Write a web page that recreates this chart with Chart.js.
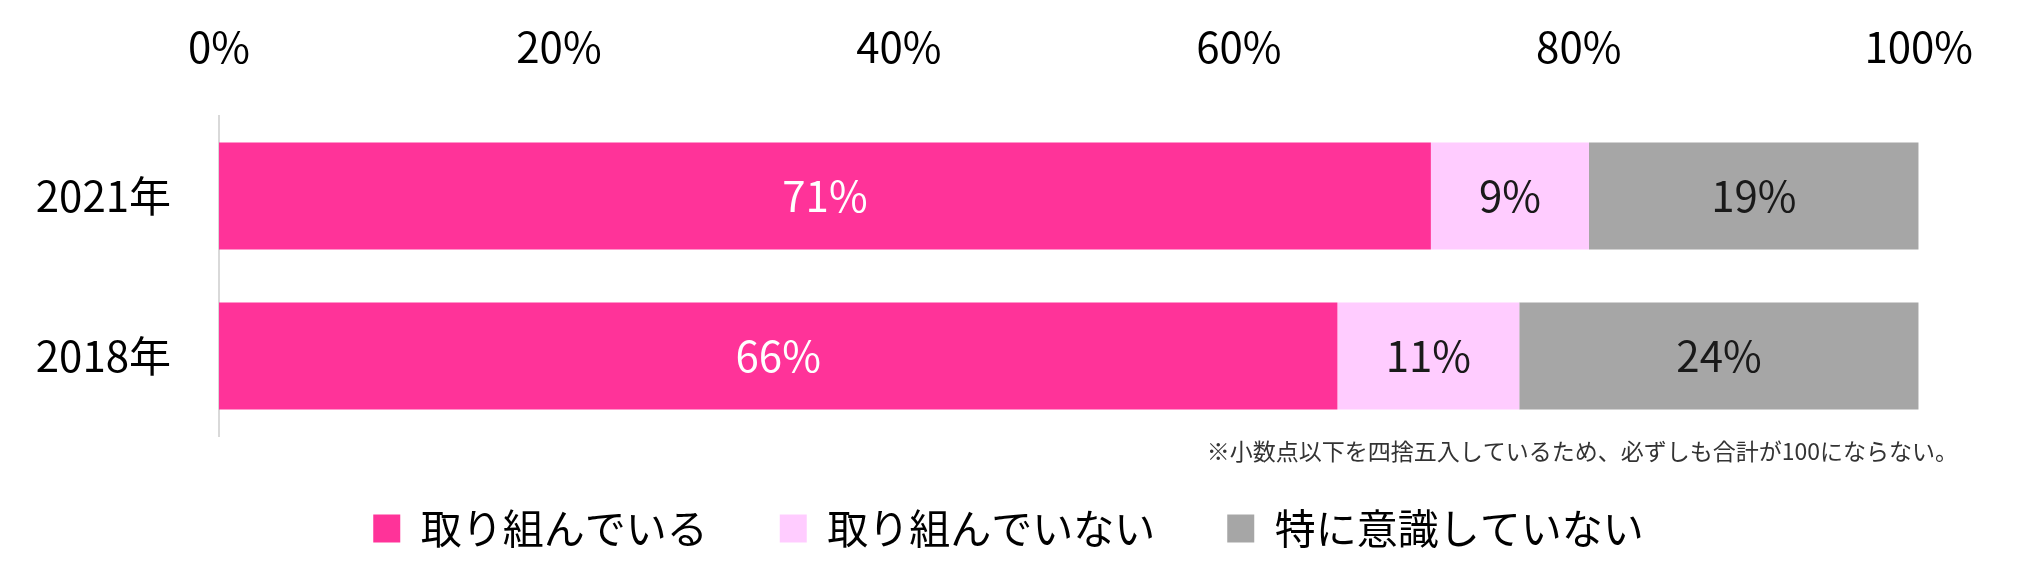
<!DOCTYPE html>
<html lang="ja">
<head>
<meta charset="utf-8">
<script src="https://cdn.jsdelivr.net/npm/chart.js@4.4.3/dist/chart.umd.min.js"></script>
<style>
    html, body { margin: 0; padding: 0; background: #fff; }
    #wrap { width: 2017px; height: 571px; position: relative; }
</style>
</head>
<body>
<div id="wrap"><canvas id="chart"></canvas></div>
<script>
const years = ['2021年', '2018年'];
const seriesNames = ['取り組んでいる', '取り組んでいない', '特に意識していない'];
const doing = [71.3, 65.8];
const notDoing = [9.3, 10.7];
const notAware = [19.4, 23.5];
const xTicks = [0, 20, 40, 60, 80, 100];
const note = '※小数点以下を四捨五入しているため、必ずしも合計が100にならない。';

const colors = ['#FF3399', '#FFCCFF', '#A6A6A6'];
const labelColors = ['#ffffff', '#1a1a1a', '#1a1a1a'];
const FONT = '"Noto Sans CJK JP", "Noto Sans", sans-serif';

// value labels in the middle of each segment
const barLabels = {
    id: 'barLabels',
    afterDatasetsDraw(chart) {
        const ctx = chart.ctx;
        ctx.save();
        ctx.font = `42px ${FONT}`;
        ctx.textAlign = 'center';
        ctx.textBaseline = 'middle';
        chart.data.datasets.forEach((ds, i) => {
            chart.getDatasetMeta(i).data.forEach((bar, j) => {
                const { x, y, base } = bar.getProps(['x', 'y', 'base'], true);
                ctx.fillStyle = labelColors[i];
                ctx.fillText(Math.round(ds.data[j]) + '%', (x + base) / 2, y);
            });
        });
        ctx.restore();
    }
};

// footnote under the bars, right side
const footNote = {
    id: 'footNote',
    afterDraw(chart) {
        const ctx = chart.ctx;
        ctx.save();
        ctx.font = `23px ${FONT}`;
        ctx.fillStyle = '#333';
        ctx.textAlign = 'right';
        ctx.textBaseline = 'middle';
        ctx.fillText(note, 1958, chart.chartArea.bottom + 15);
        ctx.restore();
    }
};

const values = [doing, notDoing, notAware];
const datasets = seriesNames.map((name, i) => ({
    label: name,
    data: values[i],
    backgroundColor: colors[i],
    borderWidth: 0,
    barPercentage: 0.67,
    categoryPercentage: 1.0
}));

new Chart(document.getElementById('chart'), {
    type: 'bar',
    data: { labels: years, datasets: datasets },
    plugins: [barLabels, footNote],
    options: {
        indexAxis: 'y',
        responsive: true,
        maintainAspectRatio: false,
        animation: false,
        layout: { padding: { top: 0, left: 0, right: 0, bottom: 12 } },
        plugins: {
            tooltip: { enabled: false },
            legend: {
                position: 'bottom',
                labels: {
                    font: { family: FONT, size: 41 },
                    color: '#000',
                    boxWidth: 27,
                    boxHeight: 28,
                    padding: 72
                }
            }
        },
        scales: {
            x: {
                stacked: true,
                position: 'top',
                min: 0,
                max: 100,
                afterBuildTicks: scale => { scale.ticks = xTicks.map(v => ({ value: v })); },
                afterFit: scale => { scale.height = 116; },
                grid: { display: false, drawTicks: false },
                border: { display: false },
                ticks: {
                    font: { family: FONT, size: 42 },
                    color: '#000',
                    padding: 44,
                    maxRotation: 0,
                    callback: v => v + '%'
                }
            },
            y: {
                stacked: true,
                afterFit: scale => { scale.width = 219; },
                grid: { display: true, color: 'transparent', drawTicks: false },
                border: { display: true, color: '#d9d9d9', width: 2 },
                ticks: {
                    font: { family: FONT, size: 42 },
                    color: '#000',
                    padding: 48
                }
            },
            yRight: {
                type: 'linear',
                position: 'right',
                display: true,
                afterFit: scale => { scale.width = 93; },
                grid: { display: false, drawTicks: false },
                border: { display: false },
                ticks: { display: false }
            }
        }
    }
});
</script>
</body>
</html>
